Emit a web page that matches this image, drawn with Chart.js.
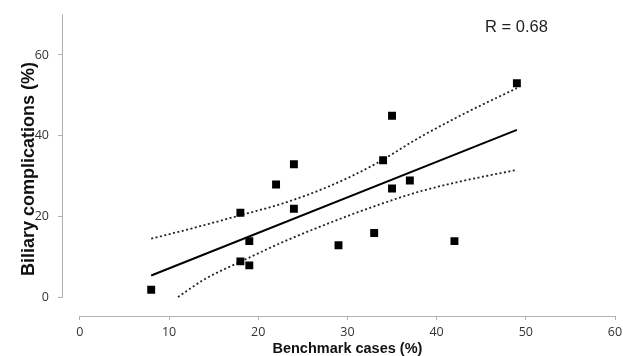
<!DOCTYPE html>
<html>
<head>
<meta charset="utf-8">
<script src="https://cdn.jsdelivr.net/npm/chart.js@4/dist/chart.umd.min.js"></script>
<style>
  html, body { margin: 0; padding: 0; background: #fff; }
  #chart { display: block; }
</style>
</head>
<body>
<canvas id="chart" width="623" height="356"></canvas>
<script>
/* data */
const benchmarkCases = [8, 18, 18, 19, 19, 22, 24, 24, 29, 33, 34, 35, 35, 37, 42, 49];
const biliaryComplications = [2, 21, 9, 14, 8, 28, 33, 22, 13, 16, 34, 45, 27, 29, 14, 53];

const fitX = [8, 49];
const fitY = [5.5, 41.5];

const upperX = [8, 13, 18, 23, 28, 33, 38, 43, 49];
const upperY = [14.6, 17.4, 20.4, 23.5, 27.6, 32.9, 39.5, 45.4, 51.8];
const lowerX = [11, 14, 18, 23, 28, 33, 38, 43, 49];
const lowerY = [0.2, 4.6, 8.9, 14, 18.5, 22.6, 26.2, 28.9, 31.6];

const xTicks = [0, 10, 20, 30, 40, 50, 60];
const yTicks = [0, 20, 40, 60];
const rLabel = "R = 0.68";
const xTitle = "Benchmark cases (%)";
const yTitle = "Biliary complications (%)";

const toPoints = (xs, ys) => xs.map((x, i) => ({ x: x, y: ys[i] }));

/* axis lines starting at zero + the titles, like the original */
const axisLines = {
  id: "axisLines",
  afterDraw(chart) {
    const { ctx, scales: { x, y } } = chart;
    ctx.save();
    ctx.strokeStyle = "#b0b0b0";
    ctx.lineWidth = 1;
    ctx.beginPath();
    ctx.moveTo(x.left + 0.5, y.getPixelForValue(70));
    ctx.lineTo(x.left + 0.5, y.getPixelForValue(0));
    ctx.moveTo(x.getPixelForValue(0), y.bottom + 0.5);
    ctx.lineTo(x.getPixelForValue(60), y.bottom + 0.5);
    ctx.stroke();

    ctx.fillStyle = "#222";
    ctx.font = "16.5px 'Liberation Sans', Arial, sans-serif";
    ctx.textAlign = "left";
    ctx.textBaseline = "middle";
    ctx.fillText(rLabel, 485, 27);

    ctx.fillStyle = "#111";
    ctx.textAlign = "center";
    ctx.font = "bold 14.5px 'Liberation Sans', Arial, sans-serif";
    ctx.fillText(xTitle, (x.getPixelForValue(0) + x.getPixelForValue(60)) / 2, 349);

    ctx.font = "bold 18px 'Liberation Sans', Arial, sans-serif";
    ctx.translate(29, 169);
    ctx.rotate(-Math.PI / 2);
    ctx.fillText(yTitle, 0, 0);
    ctx.restore();
  }
};

new Chart(document.getElementById("chart"), {
  type: "scatter",
  data: {
    datasets: [
      {
        label: "cases",
        data: toPoints(benchmarkCases, biliaryComplications),
        pointStyle: "rect",
        pointRadius: 5.6,
        pointBorderWidth: 0,
        backgroundColor: "#000",
        order: 0
      },
      {
        type: "line",
        label: "fit",
        data: toPoints(fitX, fitY),
        borderColor: "#000",
        borderWidth: 2,
        pointRadius: 0,
        fill: false,
        order: 1
      },
      {
        type: "line",
        label: "upper",
        data: toPoints(upperX, upperY),
        borderColor: "#222",
        borderWidth: 1.8,
        borderDash: [2, 2.5],
        cubicInterpolationMode: "monotone",
        pointRadius: 0,
        fill: false,
        order: 2
      },
      {
        type: "line",
        label: "lower",
        data: toPoints(lowerX, lowerY),
        borderColor: "#222",
        borderWidth: 1.8,
        borderDash: [2, 2.5],
        cubicInterpolationMode: "monotone",
        pointRadius: 0,
        fill: false,
        order: 2
      }
    ]
  },
  options: {
    responsive: false,
    animation: false,
    devicePixelRatio: 1,
    layout: { padding: { top: 14.5, right: 8, left: 0, bottom: 0 } },
    plugins: { legend: { display: false }, tooltip: { enabled: false } },
    scales: {
      x: {
        type: "linear",
        min: -2,
        max: 60,
        afterFit: s => { s.height = 40; s.paddingLeft = 0; s.paddingRight = 0; },
        afterBuildTicks: s => { s.ticks = xTicks.map(v => ({ value: v })); },
        border: { display: false },
        grid: { drawOnChartArea: false, color: "#b0b0b0", tickLength: 4 },
        ticks: {
          padding: 5,
          color: "#333",
          font: { family: "'Open Sans', sans-serif", size: 12.5 }
        }
      },
      y: {
        type: "linear",
        min: -4.5,
        max: 70,
        afterFit: s => { s.width = 62; s.paddingTop = 0; s.paddingBottom = 0; },
        afterBuildTicks: s => { s.ticks = yTicks.map(v => ({ value: v })); },
        border: { display: false },
        grid: { drawOnChartArea: false, color: "#b0b0b0", tickLength: 4 },
        ticks: {
          padding: 9,
          color: "#333",
          font: { family: "'Open Sans', sans-serif", size: 12.5 }
        }
      }
    }
  },
  plugins: [axisLines]
});
</script>
</body>
</html>
